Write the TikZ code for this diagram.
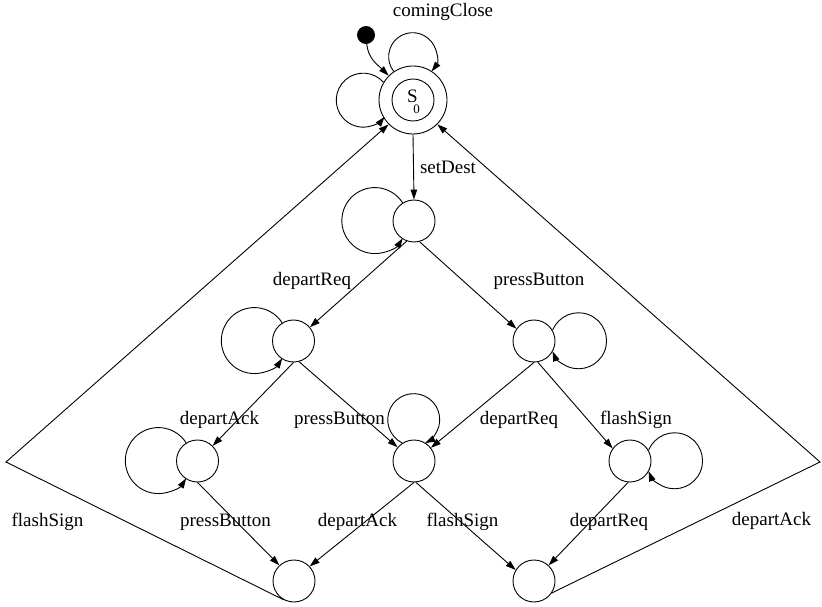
\documentclass[tikz,border=0pt]{standalone}
\usepackage{fontspec}
\setmainfont{Liberation Serif}
\usetikzlibrary{arrows.meta}
\begin{document}
\begin{tikzpicture}[x=1pt,y=1pt,
  every node/.style={font=\fontsize{19}{19}\selectfont},
  state/.style={circle,draw,line width=0.9pt,minimum size=42pt,inner sep=0pt},
  arr/.style={line width=0.9pt,-{Triangle[length=10pt,width=6.5pt]}},
  lbl/.style={anchor=base,inner sep=0pt}]
\useasboundingbox (0,0) rectangle (822,606);
% states
\node[state,minimum size=68pt] (S0) at (413,506) {};
\node[state] (S0in) at (413,506) {};
\node[inner sep=0pt] (S0s) at (412.5,509.5) {S};
\node[inner sep=0pt,font=\fontsize{13}{13}\selectfont] (S0n) at (416.5,497) {0};
\node[circle,fill=black,draw,line width=0.9pt,minimum size=17pt,inner sep=0pt] (dot) at (366,571) {};
\node[state] (n1) at (414,385) {};
\node[state] (n2) at (293.5,265) {};
\node[state] (n3) at (534,265) {};
\node[state] (n4) at (197.5,145) {};
\node[state] (n5) at (414,145) {};
\node[state] (n6) at (630,145) {};
\node[state] (n7) at (294,25) {};
\node[state] (n8) at (534,25) {};
\coordinate (aL) at (6,144);
\coordinate (aR) at (820,144);
% initial
\draw[arr] (dot) to[out=-85,in=135] (S0.135);
% loops
\draw[arr] (S0.124) arc[start angle=218,end angle=-38,radius=24];
\draw[arr] (S0.149) arc[start angle=41.5,end angle=322,radius=27];
\draw[arr] (n1.122) arc[start angle=32.6,end angle=327.4,radius=33];
\draw[arr] (n2.122) arc[start angle=32.6,end angle=327.4,radius=33];
\draw[arr] (n4.122) arc[start angle=32.6,end angle=327.4,radius=33];
\draw[arr] (n3.30) arc[start angle=158,end angle=-158,radius=28];
\draw[arr] (n6.30) arc[start angle=158,end angle=-158,radius=28];
\draw[arr] (n5.123) arc[start angle=244,end angle=-64,radius=26];
% edges
\draw[arr] (S0.south) -- (n1.north);
\draw[arr] (n1.250) -- (n2.40);
\draw[arr] (n1.285) -- (n3.145);
\draw[arr] (n2.270) -- (n4.45);
\draw[arr] (n2.285) -- (n5.140);
\draw[arr] (n3.270) -- (n5.38);
\draw[arr] (n3.280) -- (n6.144);
\draw[arr] (n4.270) -- (n7.133);
\draw[arr] (n5.270) -- (n7.43);
\draw[arr] (n5.275) -- (n8.149);
\draw[arr] (n6.265) -- (n8.47);
\draw[arr] (n7.242) -- (aL) -- (S0.225);
\draw[arr] (n8.-34) -- (aR) -- (S0.315);
% labels
\node[lbl] (l0) at (443,589.6) {comingClose};
\node[lbl] (l1) at (448,432) {setDest};
\node[lbl] (l2) at (312,320.6) {departReq};
\node[lbl] (l3) at (539,320.6) {pressButton};
\node[lbl] (l4) at (219.5,182) {departAck};
\node[lbl] (l5) at (339.5,182) {pressButton};
\node[lbl] (l6) at (519,182) {departReq};
\node[lbl] (l7) at (636,182) {flashSign};
\node[lbl] (l8) at (47.5,80) {flashSign};
\node[lbl] (l9) at (225.5,80) {pressButton};
\node[lbl] (l10) at (357.5,80) {departAck};
\node[lbl] (l11) at (462.5,80) {flashSign};
\node[lbl] (l12) at (609,80) {departReq};
\node[lbl] (l13) at (771.5,81) {departAck};
\end{tikzpicture}
\end{document}
